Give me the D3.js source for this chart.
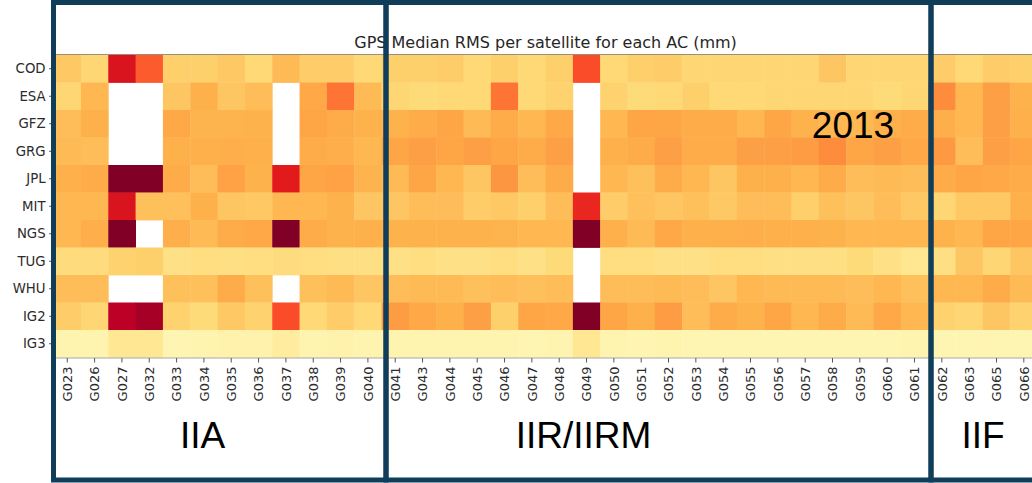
<!DOCTYPE html>
<html>
<head>
<meta charset="utf-8">
<script src="https://cdn.jsdelivr.net/npm/d3@7"></script>
<style>
  html, body { margin: 0; padding: 0; background: #ffffff; }
  svg { display: block; }
</style>
</head>
<body>
<svg id="chart" width="1032" height="483"></svg>
<script>
// Satellites (PRN) and analysis centres
const satellites = [
  "G023","G026","G027","G032","G033","G034","G035","G036","G037","G038","G039","G040",
  "G041","G043","G044","G045","G046","G047","G048","G049","G050","G051","G052","G053",
  "G054","G055","G056","G057","G058","G059","G060","G061",
  "G062","G063","G065","G066"
];
const centres = ["COD","ESA","GFZ","GRG","JPL","MIT","NGS","TUG","WHU","IG2","IG3"];

// Median RMS per satellite (mm); null = no solution
const codRms = [6.0,5.2,15.6,12.0,5.6,5.6,6.0,5.0,7.0,5.8,5.8,5.0, 5.6,5.6,5.8,5.0,5.6,5.0,5.6,12.6,5.0,5.6,5.8,5.2, 5.2,5.2,5.2,5.2,6.2,5.2,5.2,5.2, 5.8,5.0,5.8,5.6];
const esaRms = [5.2,7.2,null,null,6.2,7.6,6.2,6.8,null,8.2,11.0,7.0, 5.2,4.8,5.0,5.0,11.0,5.0,5.4,null,5.4,4.8,5.0,5.6, 5.0,5.0,5.2,5.2,5.2,5.2,4.8,5.2, 10.0,7.2,8.8,7.5];
const gfzRms = [6.8,7.6,null,null,8.2,7.4,7.4,7.5,null,8.4,8.0,7.5, 7.5,8.0,8.4,7.0,8.0,7.2,8.2,null,7.2,8.4,8.4,8.0, 8.0,7.2,8.4,7.5,7.2,7.2,7.6,8.0, 7.8,7.2,8.8,7.6];
const grgRms = [7.0,6.8,null,null,7.6,7.6,7.8,7.6,null,8.0,7.8,7.2, 8.4,8.8,8.4,8.8,8.4,8.0,8.8,null,7.6,8.0,8.8,8.0, 8.0,8.8,8.8,9.0,10.0,8.4,8.8,8.2, 9.2,6.8,8.8,8.4];
const jplRms = [7.6,8.0,26.3,31.7,8.0,6.8,8.6,7.5,15.0,8.4,8.6,7.4, 7.0,8.4,7.2,6.2,9.4,6.8,8.0,null,7.2,6.6,8.0,7.2, 6.2,7.6,7.6,7.2,8.0,6.8,7.0,6.8, 8.0,8.4,8.2,8.0];
const mitRms = [7.2,7.2,15.6,6.6,6.6,7.6,6.2,6.0,7.2,7.2,7.5,6.2, 6.2,6.8,6.8,5.8,6.0,5.6,6.8,14.4,5.8,6.6,6.2,6.6, 6.0,6.8,6.8,5.6,6.6,6.2,6.8,6.0, 5.2,6.0,6.0,7.6];
const ngsRms = [7.2,7.8,27.4,null,7.8,7.0,8.0,8.2,23.9,8.0,7.5,7.6, 7.5,7.5,7.5,7.5,7.4,7.2,7.2,25.6,7.6,7.0,8.2,7.6, 7.6,7.8,7.6,7.6,7.5,7.2,7.2,7.2, 7.5,7.2,8.4,8.4];
const tugRms = [4.6,4.6,5.4,5.6,4.0,4.4,4.2,4.4,4.6,4.4,4.2,4.2, 4.0,4.4,4.0,4.0,4.4,4.0,4.8,null,4.4,4.4,4.0,4.0, 4.4,4.4,4.2,4.2,4.2,4.8,4.0,3.4, 4.2,6.2,5.2,6.2];
const whuRms = [6.8,6.8,null,null,6.6,6.6,8.0,6.6,null,6.6,7.0,6.2, 6.8,7.0,7.0,6.6,6.8,6.6,6.8,null,6.8,6.8,7.0,6.8, 6.2,7.2,7.0,7.0,7.0,6.8,7.2,6.6, 7.2,7.2,8.0,7.0];
const ig2Rms = [5.8,5.2,17.5,18.4,5.4,4.8,6.0,5.4,12.6,5.0,5.8,5.0, 9.0,8.2,7.6,8.8,5.6,8.4,8.2,29.1,8.4,7.6,9.0,6.8, 8.0,7.5,8.4,7.2,8.0,7.0,8.2,7.2, 5.4,5.2,6.2,5.4];
const ig3Rms = [1.6,1.6,3.2,3.2,1.4,1.6,1.8,1.8,2.6,1.6,1.8,1.6, 1.6,1.6,1.6,1.6,1.6,1.4,1.6,3.2,1.6,1.4,1.6,1.4, 1.4,1.4,1.4,1.4,1.4,1.4,1.4,1.6, 1.4,1.4,1.4,1.4];

// Satellite blocks and the annotation year
const blockNames = ["IIA","IIR/IIRM","IIF"];
const yearLabel = "2013";
const chartTitle = "GPS Median RMS per satellite for each AC (mm)";

const rmsRows = [codRms, esaRms, gfzRms, grgRms, jplRms, mitRms, ngsRms, tugRms, whuRms, ig2Rms, ig3Rms];
const cells = [];
rmsRows.forEach((vals, r) => vals.forEach((v, c) => cells.push({ac: centres[r], sat: satellites[c], v})));

const svg = d3.select("#chart");
svg.append("rect").attr("width", 1032).attr("height", 483).attr("fill", "#fff");

const plotLeft = 53.6, plotTop = 55, cellW = 27.33, cellH = 27.5;
const x = d3.scaleBand().domain(satellites).range([plotLeft, plotLeft + cellW * satellites.length]).padding(0);
const y = d3.scaleBand().domain(centres).range([plotTop, plotTop + cellH * centres.length]).padding(0);

// YlOrRd colour map, vmin 0 .. vmax 20 mm
const ylOrRd = ["#ffffcc","#ffeda0","#fed976","#feb24c","#fd8d3c","#fc4e2a","#e31a1c","#bd0026","#800026"];
const color = d3.scaleLinear()
  .domain(d3.range(ylOrRd.length).map(i => i * 20 / (ylOrRd.length - 1)))
  .range(ylOrRd)
  .interpolate(d3.interpolateRgb)
  .clamp(true);

svg.append("g").selectAll("rect")
  .data(cells.filter(d => d.v !== null))
  .join("rect")
  .attr("x", d => x(d.sat))
  .attr("y", d => y(d.ac))
  .attr("width", x.bandwidth() + 0.4)
  .attr("height", y.bandwidth() + 0.4)
  .attr("fill", d => color(d.v));

// axes frame (top / bottom)
const [x0, x1] = x.range(), [y0, y1] = y.range();
svg.append("line").attr("x1", x0).attr("x2", x1).attr("y1", y0 - 0.5).attr("y2", y0 - 0.5)
  .attr("stroke", "#9a8f7a").attr("stroke-width", 1);
svg.append("line").attr("x1", x0).attr("x2", x1).attr("y1", y1 + 0.5).attr("y2", y1 + 0.5)
  .attr("stroke", "#aaa9a0").attr("stroke-width", 1);

// x axis
const xAxis = svg.append("g").attr("transform", `translate(0,${y1 + 0.5})`)
  .call(d3.axisBottom(x).tickSize(4.5).tickPadding(4));
xAxis.select(".domain").remove();
xAxis.selectAll(".tick line").attr("stroke", "#555").attr("stroke-width", 1);
xAxis.selectAll(".tick text")
  .attr("transform", "rotate(-90)")
  .attr("text-anchor", "end")
  .attr("x", -8.5).attr("y", 0).attr("dy", "0.36em")
  .style("font-family", "'DejaVu Sans', sans-serif")
  .style("font-size", "13px")
  .attr("fill", "#2b2b2b");

// y axis
const yAxis = svg.append("g").attr("transform", `translate(${x0},0)`)
  .call(d3.axisLeft(y).tickSize(4.5).tickPadding(3.5));
yAxis.select(".domain").remove();
yAxis.selectAll(".tick line").attr("stroke", "#555").attr("stroke-width", 1);
yAxis.selectAll(".tick text")
  .style("font-family", "'DejaVu Sans', sans-serif")
  .style("font-size", "13.3px")
  .attr("fill", "#2b2b2b");

// title
svg.append("text")
  .attr("x", (x0 + x1) / 2).attr("y", 47.5)
  .attr("text-anchor", "middle")
  .style("font-family", "'DejaVu Sans', sans-serif")
  .style("font-size", "16px")
  .attr("fill", "#262626")
  .text(chartTitle);

// block frames
const frameColor = "#0f3d5a";
const frameLeft = [53.5, 386, 931];
const frameRight = [386, 931, 1045];
blockNames.forEach((name, i) => {
  svg.append("rect")
    .attr("x", frameLeft[i]).attr("y", 2.5)
    .attr("width", frameRight[i] - frameLeft[i]).attr("height", 477.5)
    .attr("fill", "none")
    .attr("stroke", frameColor)
    .attr("stroke-width", 5);
});

const labelCentres = [202.5, 583.5, 983];
blockNames.forEach((name, i) => {
  svg.append("text")
    .attr("x", labelCentres[i]).attr("y", 448)
    .attr("text-anchor", "middle")
    .style("font-family", "'Liberation Sans', Arial, sans-serif")
    .style("font-size", "37px")
    .attr("fill", "#000")
    .text(name);
});

svg.append("text")
  .attr("x", 853).attr("y", 138.3)
  .attr("text-anchor", "middle")
  .style("font-family", "'Liberation Sans', Arial, sans-serif")
  .style("font-size", "37px")
  .attr("fill", "#000")
  .text(yearLabel);
</script>
</body>
</html>
